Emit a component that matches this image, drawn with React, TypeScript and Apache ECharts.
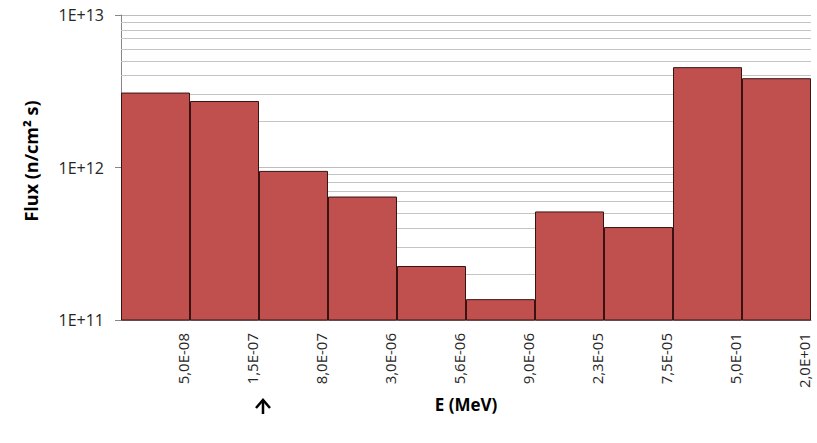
import React, { useEffect, useRef } from "react";
import * as echarts from "echarts";

const categories = ["5,0E-08", "1,5E-07", "8,0E-07", "3,0E-06", "5,6E-06", "9,0E-06", "2,3E-05", "7,5E-05", "5,0E-01", "2,0E+01"];
const fluxValues = [3.1e12, 2.73e12, 9.5e11, 6.45e11, 2.26e11, 1.37e11, 5.15e11, 4.07e11, 4.55e12, 3.85e12];
const yTickLabels = ["1E+11", "1E+12", "1E+13"];
const minorGridValues = [2e11, 3e11, 4e11, 5e11, 6e11, 7e11, 8e11, 9e11, 2e12, 3e12, 4e12, 5e12, 6e12, 7e12, 8e12, 9e12];
// boundary labels: first boundary (left edge) has no label
const boundaryLabels = ["", ...categories];

const FONT = "'Open Sans', sans-serif";

export default function App() {
  const ref = useRef<HTMLDivElement>(null);
  useEffect(() => {
    if (!ref.current) return;
    const chart = echarts.init(ref.current, null, { renderer: "svg" });
    chart.setOption({
      animation: false,
      backgroundColor: "#ffffff",
      grid: { left: 121, right: 6, top: 15, bottom: 123, containLabel: false },
      xAxis: [
        {
          type: "category",
          data: categories,
          boundaryGap: true,
          position: "bottom",
          name: "E (MeV)",
          nameLocation: "middle",
          nameGap: 76,
          nameTextStyle: { fontFamily: FONT, fontSize: 17, fontWeight: "bold", color: "#000" },
          axisLine: { show: true, lineStyle: { color: "#868686", width: 1 } },
          axisTick: { show: false },
          splitLine: { show: false },
          axisLabel: { show: false },
        },
        {
          type: "category",
          data: boundaryLabels,
          boundaryGap: false,
          position: "bottom",
          axisLine: { show: false },
          axisTick: { show: false },
          splitLine: { show: false },
          axisLabel: {
            rotate: 90,
            margin: 13,
            interval: 0,
            verticalAlign: "bottom",
            fontFamily: FONT,
            fontSize: 15,
            color: "#262626",
          },
        },
      ],
      yAxis: {
        type: "log",
        logBase: 10,
        min: 1e11,
        max: 1e13,
        axisLine: { show: true, lineStyle: { color: "#868686", width: 1 } },
        axisTick: { show: true, length: 6, lineStyle: { color: "#868686" } },
        splitLine: { show: true, lineStyle: { color: "#bdbdbd", width: 1 } },
        axisLabel: {
          margin: 17,
          fontFamily: FONT,
          fontSize: 16,
          color: "#262626",
          formatter: (v: number) => yTickLabels[Math.round(Math.log10(v)) - 11] ?? "",
        },
      },
      series: [
        {
          type: "line",
          data: [],
          xAxisIndex: 0,
          z: 1,
          silent: true,
          markLine: {
            z: 1,
            silent: true,
            symbol: "none",
            label: { show: false },
            lineStyle: { color: "#c4c4c4", width: 1, type: "solid" },
            data: minorGridValues.map((v) => ({ yAxis: v })),
          },
        },
        {
          type: "bar",
          data: fluxValues,
          xAxisIndex: 0,
          z: 3,
          barCategoryGap: "0%",
          itemStyle: { color: "#C0504D", borderColor: "#3a1212", borderWidth: 1 },
        },
      ],
      graphic: [
        {
          type: "text",
          x: 31,
          y: 161,
          rotation: Math.PI / 2,
          style: {
            text: "Flux (n/cm² s)",
            fontFamily: FONT,
            fontSize: 18,
            fontWeight: "bold",
            fill: "#000",
            align: "center",
            verticalAlign: "middle",
          },
        },
        {
          type: "group",
          children: [
            { type: "line", shape: { x1: 263, y1: 400, x2: 263, y2: 414 }, style: { stroke: "#000", lineWidth: 2.5 } },
            { type: "polyline", shape: { points: [[256, 408], [263, 400], [270, 408]] }, style: { stroke: "#000", lineWidth: 2.5, fill: null } },
          ],
        },
      ],
    });
    return () => chart.dispose();
  }, []);
  return <div ref={ref} style={{ position: "fixed", left: 0, top: 0, width: 817, height: 443 }} />;
}
